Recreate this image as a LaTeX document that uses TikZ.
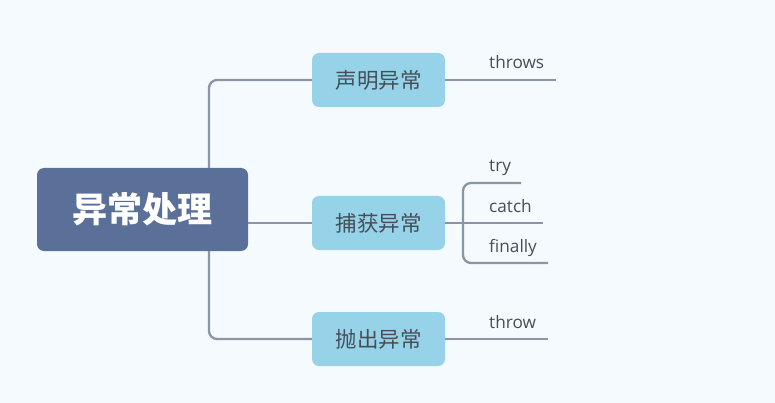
\documentclass[tikz,border=0pt]{standalone}
\usepackage{fontspec}
\setmainfont{Open Sans}
\newfontfamily\cjk{Noto Sans CJK SC}
\usepackage{tikz}
\usetikzlibrary{positioning}

\definecolor{bgcol}{RGB}{245,250,254}
\definecolor{rootcol}{RGB}{90,112,152}
\definecolor{branchcol}{RGB}{150,210,232}
\definecolor{linecol}{RGB}{138,150,168}
\definecolor{txtcol}{RGB}{70,78,88}

\begin{document}
\begin{tikzpicture}[x=1pt,y=-1pt,
  rootbox/.style={fill=rootcol, rounded corners=7pt, minimum width=211pt,
    minimum height=83pt, inner sep=0pt, text=white,
    font=\cjk\bfseries\fontsize{35}{40}\selectfont},
  branchbox/.style={fill=branchcol, rounded corners=7pt, minimum width=133pt,
    minimum height=54pt, inner sep=0pt, text=txtcol,
    font=\cjk\fontsize{21.5}{26}\selectfont},
  leaf/.style={anchor=base west, inner sep=0pt, text=txtcol,
    font=\fontsize{17.2}{20}\selectfont},
  link/.style={draw=linecol, line width=2.3pt}]
  \fill[bgcol] (0,0) rectangle (775,403);
  \useasboundingbox (0,0) rectangle (775,403);

  \node[rootbox] (exc) at (142.5,209.5) {异常处理};

  \node[branchbox] (declare) at (378.5,80) {声明异常};
  \node[branchbox] (capture) at (378.5,223) {捕获异常};
  \node[branchbox] (raise) at (378.5,339) {抛出异常};

  \coordinate (trunk) at (209,0);
  \coordinate (fork) at (463,223);

  \coordinate (throwsend) at (556,80);
  \coordinate (tryend) at (521,183);
  \coordinate (catchend) at (543,223);
  \coordinate (finallyend) at (548,263);
  \coordinate (throwend) at (548,339);

  \node[leaf] (throws) at (489,69) {throws};
  \node[leaf] (try) at (489,172) {try};
  \node[leaf] (catch) at (489,212) {catch};
  \node[leaf] (finally) at (489,252) {finally};
  \node[leaf] (throw) at (489,328) {throw};

  \draw[link, rounded corners=8pt] (exc.north -| trunk) |- (declare.west);
  \draw[link] (exc.east |- capture.west) -- (capture.west);
  \draw[link, rounded corners=8pt] (exc.south -| trunk) |- (raise.west);

  \draw[link] (declare.east) -- (throwsend);
  \draw[link] (capture.east) -- (catchend);
  \draw[link, rounded corners=8pt] (tryend) -| (fork) |- (finallyend);
  \draw[link] (raise.east) -- (throwend);

\end{tikzpicture}
\end{document}
